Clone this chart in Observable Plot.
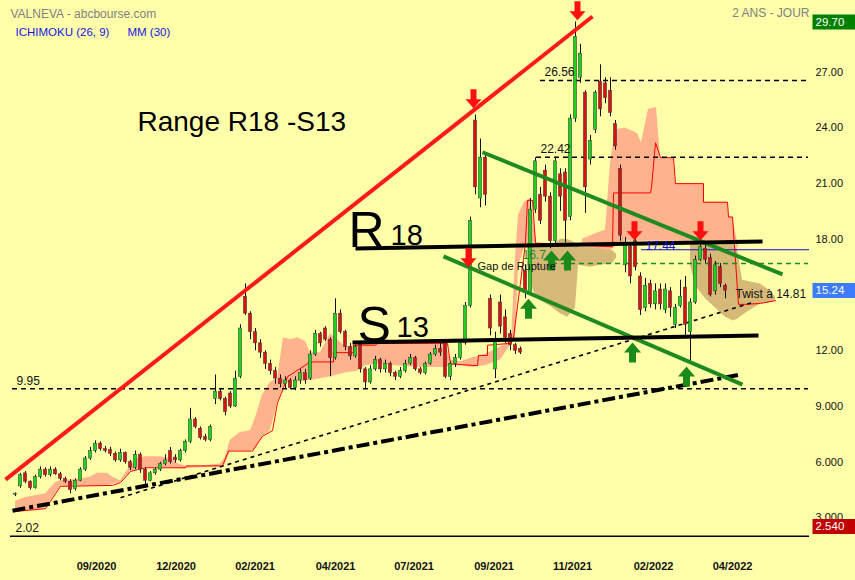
<!DOCTYPE html>
<html><head><meta charset="utf-8">
<script src="https://cdn.jsdelivr.net/npm/d3@7"></script>
<script src="https://cdn.jsdelivr.net/npm/@observablehq/plot@0.6"></script>
<style>html,body{margin:0;padding:0;background:#FFFFAA;} #chart svg{display:block}</style>
</head><body><div id="chart"></div>
<script>
// ---- candle data (one candle per slot) ----
const opens  = [4.25,4.7,5.4,4.95,4.6,5.2,5.6,5.3,5.6,5.35,5.1,4.95,4.55,5.0,5.6,6.2,6.6,7.0,6.7,6.65,6.45,6.1,6.5,6.0,5.7,6.4,5.6,5.0,5.4,5.6,5.9,6.6,6.25,6.1,6.6,7.1,8.3,7.8,7.35,7.2,9.4,9.8,9.4,9.7,9.0,10.6,14.9,14.0,13.0,12.4,11.9,11.3,10.9,10.5,10.2,10.4,10.0,10.4,10.8,10.5,11.8,12.9,13.2,12.6,11.6,14.0,13.0,12.2,11.7,12.3,11.0,10.3,11.0,11.5,11.0,11.3,10.8,10.6,10.9,11.3,11.6,11.0,10.8,11.3,11.8,12.1,12.4,10.6,11.3,11.6,12.4,14.4,24.4,20.2,22.4,14.8,11.0,14.6,13.8,12.9,12.3,12.1,16.3,15.1,19.6,20.4,21.7,20.3,17.9,21.5,21.6,19.2,24.5,26.7,25.9,22.3,23.9,26.5,26.4,26.0,24.2,21.8,16.6,17.6,17.9,16.0,14.3,15.6,14.5,15.3,14.2,15.2,13.4,14.4,15.4,13.0,14.6,16.9,17.5,17.0,15.2,16.5,15.5];
const highs  = [4.35,5.4,5.5,5.0,5.3,5.75,5.7,5.75,5.7,5.45,5.2,5.05,5.1,5.7,6.3,6.8,7.15,7.1,6.85,6.8,6.55,6.7,6.55,6.1,6.6,6.5,5.7,5.5,5.7,6.0,6.4,6.8,6.4,6.7,7.2,8.9,8.4,7.9,7.5,8.0,10.7,9.95,9.5,9.8,10.9,13.4,15.6,14.1,13.2,12.6,12.0,11.5,11.1,10.7,10.6,10.5,10.6,11.0,11.0,12.0,13.1,13.0,13.3,12.7,14.8,14.2,13.1,12.4,12.3,12.4,11.1,11.2,11.7,11.6,11.5,11.4,10.9,11.1,11.5,11.8,11.7,11.1,11.4,11.9,12.3,12.6,12.6,11.4,11.8,12.6,14.6,19.2,24.7,23.4,22.6,15.0,13.0,15.0,14.2,13.1,12.4,12.2,16.6,20.2,22.4,20.8,22.0,20.5,22.4,21.8,21.8,24.7,29.7,28.5,26.0,23.6,26.0,27.4,26.7,26.7,24.4,22.0,18.1,17.8,18.0,16.2,15.9,15.8,15.6,15.6,15.6,15.4,14.5,15.8,16.0,14.8,17.1,17.9,17.8,17.2,16.8,16.7,15.6];
const lows   = [4.15,4.6,4.85,4.5,4.55,5.1,5.2,5.2,5.3,5.0,4.85,4.3,4.45,4.95,5.5,6.1,6.5,6.6,6.5,6.3,6.0,6.0,5.9,5.55,5.6,5.4,4.8,4.95,5.3,5.5,5.8,5.9,5.95,6.0,6.5,7.0,7.8,7.2,7.1,7.1,9.1,9.3,8.5,8.9,8.95,10.5,13.9,12.6,12.0,11.6,11.0,10.7,10.2,10.0,9.95,9.9,9.85,10.2,10.2,10.4,11.7,12.2,12.5,10.6,11.5,12.9,12.0,11.5,11.6,10.8,9.95,10.2,10.9,10.8,10.8,10.6,10.4,10.5,10.8,11.2,10.9,10.7,10.7,11.2,11.7,11.7,10.5,10.4,11.1,11.5,12.3,14.3,20.4,19.7,19.8,12.8,10.5,12.9,12.4,12.0,11.8,11.8,14.8,15.0,19.4,18.8,20.0,17.5,17.6,19.5,17.8,19.0,24.3,26.4,19.4,22.0,23.7,24.6,25.3,24.6,22.8,17.9,16.2,15.6,16.3,13.9,14.1,14.3,14.2,14.2,14.0,13.8,13.2,14.3,12.8,11.4,14.5,16.8,16.7,14.9,15.0,15.4,14.8];
const closes = [4.3,5.3,4.95,4.6,5.2,5.6,5.3,5.6,5.35,5.1,4.95,4.5,5.0,5.6,6.2,6.6,7.0,6.7,6.6,6.45,6.1,6.5,6.0,5.7,6.4,5.6,5.0,5.4,5.6,5.9,6.1,6.0,6.1,6.6,7.1,8.3,7.9,7.3,7.2,7.9,9.8,9.4,8.7,9.0,10.5,13.2,14.0,13.0,12.4,11.9,11.3,10.9,10.5,10.2,10.4,10.0,10.4,10.8,10.4,11.8,12.9,12.4,12.6,11.6,14.0,13.0,12.2,11.7,12.2,11.0,10.3,11.0,11.5,11.0,11.3,10.8,10.6,10.9,11.3,11.6,11.0,10.8,11.3,11.8,12.1,11.9,10.6,11.3,11.6,12.4,14.4,19.0,20.8,22.4,20.4,13.2,12.6,13.3,12.7,12.3,12.0,11.9,15.1,19.6,22.2,19.0,20.3,17.9,22.2,20.3,19.0,24.5,28.9,28.0,20.8,23.3,25.9,25.0,25.6,24.8,23.0,18.2,17.8,16.0,16.5,14.2,15.5,14.5,15.2,14.5,15.3,14.3,14.3,14.9,13.4,14.6,16.9,17.6,16.9,15.0,16.6,15.6,15.24];

// ---- Ichimoku cloud (null = break) ----
const salmonX  = [0,2,4,6,7,8,9,13,15,16.4,18.4,19.4,21,22,23,24.4,26,29,31,32.6,34,37,41,42,43,45,47,48,49.4,51,52.4,53.6,55,56.4,58,59,61,63,64.4,66,68.4,70,73,76,81,86,87,89,91,94,97,99,
  null,99.2,100,100.6,101.8,103,104.2,
  null,113.4,116,118,119,120,122,124.4,125.2,126.6,128.2,129,131.6,132,137.6,137.8,142.4,142.6,143.4,144.6];
const salmonHi = [3.9,4.1,4.2,4.3,4.6,4.9,5.0,5.1,5.2,5.4,5.4,5.2,5.0,5.4,5.8,6.2,6.3,6.3,6.2,5.9,5.8,5.8,5.9,6.3,7.2,7.6,7.7,8.4,9.6,10.3,10.5,12.7,12.6,12.7,12.5,11.9,11.9,12.9,12.6,12.2,12.3,12.6,12.7,12.5,12.4,12.4,11.5,11.4,11.6,11.8,12.2,12.5,
  null,12.6,17.0,19.3,20.0,20.2,18.0,
  null,18.0,18.3,18.5,22.1,23.9,24.0,23.7,23.2,25.0,25.1,22.4,22.4,21.0,21.0,20.0,20.0,19.2,19.2,17.6];
const salmonLo = [3.3,3.35,3.4,3.55,3.9,4.3,4.7,4.7,4.7,4.7,4.75,4.8,4.9,5.2,5.5,5.6,5.7,5.7,5.7,5.65,5.65,5.7,5.75,5.9,6.6,6.6,6.6,6.7,7.4,7.7,9.2,10.0,10.4,10.3,10.4,10.4,10.5,10.6,10.7,10.8,10.9,11.2,11.3,11.2,11.1,11.1,11.2,11.2,11.1,11.2,11.5,12.3,
  null,12.4,12.6,16.5,17.6,17.8,17.8,
  null,17.6,17.2,17.2,17.4,17.6,17.9,17.9,17.9,17.9,17.9,17.9,17.9,17.9,17.9,17.9,17.9,17.9,17.9,17.5];
const khakiX  = [102.4,103.6,105,107,109,110.4,112,112.6,115,117,119.4,120.2, null,135,136,138,140,142,143.6,144.4,145.4,147,149,151,152];
const khakiHi = [17.8,17.8,17.6,17.6,18.0,18.0,17.8,17.6,17.5,17.5,17.4,17.2, null,17.8,17.8,17.8,17.8,17.8,17.8,17.5,15.8,15.7,15.6,15.2,14.9];
const khakiLo = [16.6,15.2,14.7,14.4,14.0,13.8,14.3,16.6,16.5,16.6,16.7,17.0, null,16.6,15.5,14.8,14.3,13.8,13.6,13.7,13.9,14.2,14.5,14.6,14.7];
const spanX = [0,6,7,8,9,19.4,21,22,23,24.4,26,34,34.2,41.4,42.6,47.4,49.4,51.4,52.4,53.6,54.4,58.4,58.6,63.6,63.6,67.6,67.6,72,72.4,86.4,87,89.4,92.4,92.6,94.4,94.4,99,99.6,102,102.4,103.4,104,119.4,119.6,127,127.2,128,129,131.6,132,137.6,137.6,142.4,142.6,143.4,144.6,146,149,152];
const spanV = [3.35,3.5,3.9,4.3,4.7,4.75,4.9,5.2,5.5,5.6,5.7,5.7,5.8,5.8,6.6,6.6,7.4,7.7,9.2,10.0,10.6,11.3,11.4,11.4,11.9,11.9,12.3,12.3,12.4,12.4,11.3,11.25,11.2,11.75,11.75,12.3,12.4,12.7,17.8,20.1,20.1,17.8,17.6,20.5,20.5,20.8,23.2,22.4,22.4,21.0,21.0,20.0,20.0,19.2,19.2,14.5,14.5,14.55,14.7];

// ---- drawn lines [x1, y1, x2, y2] in (slot, price) ----
const redTrend    = [-2, 5.06, 115.4, 30.0];
const greenUpper  = [93.4, 22.69, 153.4, 16.11];
const greenLower  = [85.6, 17.08, 145.4, 10.18];
const resistR18   = [68, 17.51, 149.4, 17.89];
const supportS13  = [67.4, 12.45, 148.6, 12.82];
const dashDotLine = [-0.6, 3.39, 145, 10.72];
const dashedLine  = [21, 4.09, 147.4, 14.6];

// ---- horizontal levels ----
const blackLevels = [26.56, 22.42, 9.95];
const blackLevelStart = [105, 104.2, -0.6];
const greenLevel = 16.7, greenLevelStart = 107.4;
const blueLevel = 17.44, blueLevelStart = 125.2;
const bottomLevel = 2.02, bottomLevelStart = -1;
const levelEnd = 158.6;

// ---- arrows (tip positions) ----
const downArrowX = [91.6, 112.4, 90.6, 123.8, 137.0];
const downArrowV = [25.06, 29.8, 16.5, 17.95, 17.95];
const upArrowX = [102.6, 107.2, 110.4, 123.4, 134.2];
const upArrowV = [14.8, 17.4, 17.4, 12.45, 11.15];

// ---- axes ----
const yTicks = [3, 6, 9, 12, 18, 21, 24, 27];
const xTickPos = [16.2, 32.1, 47.9, 64, 79.7, 95.7, 111.4, 127.6, 143.4];
const xTickLabels = ["09/2020","12/2020","02/2021","04/2021","07/2021","09/2021","11/2021","02/2022","04/2022"];
const boxValues = [29.70, 15.24, 2.54];
const boxLabels = ["29.70", "15.24", "2.540"];
const boxColors = ["#008000", "#3d7cff", "#c00000"];

// ---- texts ----
const title = "VALNEVA - abcbourse.com";
const indicators = ["ICHIMOKU (26, 9)", "MM (30)"];
const period = "2 ANS - JOUR";
const rangeTitle = {text: "Range R18 -S13", x: 24.4, v: 24.31};
const bigLetters = [{t: "R", x: 66.6, v: 18.43}, {t: "S", x: 68.4, v: 13.36}];
const bigDigits  = [{t: "18", x: 75, v: 18.19}, {t: "13", x: 76.2, v: 13.23}];
const gapText = {t: "Gap de Rupture", x: 92.4, v: 16.54};
const twistText = {t: "Twist à 14.81", x: 144, v: 15.04};
const greenLabel = {t: "16.7", x: 101.4, v: 16.7};
const blueLabel = {t: "17.44", x: 126, v: 17.44};

// ---------------------------------------------------------------
const FONT = "'Liberation Sans', Arial, Helvetica, sans-serif";
const UP = "#1fd01f", DOWN = "#d81212", SALMON = "#ffb38c", KHAKI = "#d6b877", GREEN = "#1f8a1f";

const candles = opens.map((o, i) => ({i, o, h: highs[i], l: lows[i], c: closes[i]}));
function pieces(xs, his, los) {
  let p = 0; const out = [];
  xs.forEach((x, k) => { if (x == null) { p++; return; } out.push({x, hi: his[k], lo: los[k], p}); });
  return out;
}
const salmonData = pieces(salmonX, salmonHi, salmonLo);
const khakiData = pieces(khakiX, khakiHi, khakiLo);
const spanData = spanX.map((x, k) => ({x, v: spanV[k]}));
const seg = a => [{x1: a[0], y1: a[1], x2: a[2], y2: a[3]}];

const arrowDown = {draw(ctx) {
  ctx.moveTo(0, 0); ctx.lineTo(-8, -9); ctx.lineTo(-3, -9); ctx.lineTo(-3, -19);
  ctx.lineTo(3, -19); ctx.lineTo(3, -9); ctx.lineTo(8, -9); ctx.closePath(); }};
const arrowUp = {draw(ctx) {
  ctx.moveTo(0, 0); ctx.lineTo(-8.5, 10); ctx.lineTo(-3.5, 10); ctx.lineTo(-3.5, 20);
  ctx.lineTo(3.5, 20); ctx.lineTo(3.5, 10); ctx.lineTo(8.5, 10); ctx.closePath(); }};
const boxSym = {draw(ctx) { ctx.rect(3, -7.5, 46, 15); }};

const downArrows = downArrowX.map((x, k) => ({x, v: downArrowV[k]}));
const upArrows = upArrowX.map((x, k) => ({x, v: upArrowV[k]}));
const boxes = boxValues.map((v, k) => ({v, t: boxLabels[k], c: boxColors[k]}));
const levels = blackLevels.map((v, k) => ({v, x1: blackLevelStart[k], x2: levelEnd, t: v.toFixed(2)}));

const chart = Plot.plot({
  width: 855, height: 580,
  marginTop: 16, marginBottom: 44, marginLeft: 13, marginRight: 46,
  x: {domain: [-0.4, 158.8], label: null},
  y: {domain: [2, 30], label: null},
  color: {type: "identity"},
  style: {background: "#FFFFAA", fontFamily: FONT, fontSize: "11px", color: "#111", overflow: "visible"},
  marks: [
    // cloud
    Plot.areaY(salmonData, {x: "x", y1: "lo", y2: "hi", z: "p", fill: SALMON, curve: "linear"}),
    Plot.areaY(khakiData, {x: "x", y1: "lo", y2: "hi", z: "p", fill: KHAKI, curve: "linear"}),
    Plot.line(spanData, {x: "x", y: "v", stroke: "#ff0000", strokeWidth: 1}),
    // levels
    Plot.ruleY([bottomLevel], {x1: bottomLevelStart, x2: 158.8, stroke: "#000", strokeWidth: 1.5}),
    Plot.ruleY(levels, {y: "v", x1: "x1", x2: "x2", stroke: "#000", strokeWidth: 1.5, strokeDasharray: "5,4"}),
    Plot.ruleY([greenLevel], {x1: greenLevelStart, x2: levelEnd, stroke: GREEN, strokeWidth: 1.5, strokeDasharray: "5,4"}),
    Plot.ruleY([blueLevel], {x1: blueLevelStart, x2: 158.8, stroke: "#1010d0", strokeWidth: 1}),
    // thin trend lines
    Plot.link(seg(dashedLine), {x1: "x1", y1: "y1", x2: "x2", y2: "y2", stroke: "#000", strokeWidth: 1.6, strokeDasharray: "4,4"}),
    Plot.link(seg(dashDotLine), {x1: "x1", y1: "y1", x2: "x2", y2: "y2", stroke: "#000", strokeWidth: 4, strokeDasharray: "13,4,4,4"}),
    // candles
    Plot.ruleX(candles, {x: "i", y1: "l", y2: "h", stroke: "#111", strokeWidth: 1}),
    Plot.rect(candles, {x1: d => d.i - 0.32, x2: d => d.i + 0.32, y1: "o", y2: "c",
      fill: d => d.c >= d.o ? UP : DOWN, stroke: "#333", strokeWidth: 0.5}),
    // heavy trend lines
    Plot.link(seg(redTrend), {x1: "x1", y1: "y1", x2: "x2", y2: "y2", stroke: "#ff1a1a", strokeWidth: 4}),
    Plot.link(seg(greenUpper), {x1: "x1", y1: "y1", x2: "x2", y2: "y2", stroke: GREEN, strokeWidth: 4}),
    Plot.link(seg(greenLower), {x1: "x1", y1: "y1", x2: "x2", y2: "y2", stroke: GREEN, strokeWidth: 4}),
    Plot.link(seg(resistR18), {x1: "x1", y1: "y1", x2: "x2", y2: "y2", stroke: "#000", strokeWidth: 4}),
    Plot.link(seg(supportS13), {x1: "x1", y1: "y1", x2: "x2", y2: "y2", stroke: "#000", strokeWidth: 4}),
    // arrows
    Plot.dot(downArrows, {x: "x", y: "v", symbol: arrowDown, fill: "#ff1010", stroke: "none"}),
    Plot.dot(upArrows, {x: "x", y: "v", symbol: arrowUp, fill: "#1a8a1a", stroke: "none"}),
    // level labels
    Plot.text(levels, {x: "x1", y: "v", text: "t", textAnchor: "start", dx: 4, dy: -8, fontSize: 12, fill: "#111"}),
    Plot.text([bottomLevel], {x: bottomLevelStart, y: d => d, text: d => d.toFixed(2), textAnchor: "start", dx: 5, dy: -8, fontSize: 12, fill: "#111"}),
    Plot.text([greenLabel], {x: "x", y: "v", text: "t", textAnchor: "start", dy: -8, fontSize: 12, fill: GREEN}),
    Plot.text([blueLabel], {x: "x", y: "v", text: "t", textAnchor: "start", dy: -4, fontSize: 12, fill: "#1010d0"}),
    Plot.text([gapText], {x: "x", y: "v", text: "t", textAnchor: "start", fontSize: 11, fill: "#111"}),
    Plot.text([twistText], {x: "x", y: "v", text: "t", textAnchor: "start", fontSize: 12, fill: "#111"}),
    // big annotations
    Plot.text([rangeTitle], {x: "x", y: "v", text: "text", textAnchor: "start", fontSize: 28, fill: "#000"}),
    Plot.text(bigLetters, {x: "x", y: "v", text: "t", textAnchor: "start", fontSize: 50, fill: "#000"}),
    Plot.text(bigDigits, {x: "x", y: "v", text: "t", textAnchor: "start", fontSize: 29, fill: "#000"}),
    // header
    Plot.text([title], {frameAnchor: "top-left", textAnchor: "start", dx: -3, dy: -7, fontSize: 12, fill: "#808080"}),
    Plot.text([indicators[0]], {frameAnchor: "top-left", textAnchor: "start", dx: 2, dy: 11, fontSize: 11.5, fill: "#1414e6"}),
    Plot.text([indicators[1]], {frameAnchor: "top-left", textAnchor: "start", dx: 114, dy: 11, fontSize: 11.5, fill: "#1414e6"}),
    Plot.text([period], {frameAnchor: "top-right", textAnchor: "end", dx: 0, dy: -8, fontSize: 12, fill: "#808080"}),
    // axes
    Plot.axisY(yTicks, {anchor: "right", tickSize: 0, tickPadding: 6, fontSize: 11, fill: "#111",
      tickFormat: d => d >= 10 ? d.toFixed(2) : d.toFixed(3)}),
    Plot.axisX(xTickPos, {anchor: "bottom", tickSize: 0, tickPadding: 26, fontSize: 11, fontWeight: "bold", fill: "#111",
      tickFormat: d => xTickLabels[xTickPos.indexOf(d)]}),
    // price boxes
    Plot.dot(boxes, {y: "v", frameAnchor: "right", symbol: boxSym, fill: "c", stroke: "none"}),
    Plot.text(boxes, {y: "v", frameAnchor: "right", text: "t", textAnchor: "start", dx: 6, fontSize: 11.5, fill: "#fff"})
  ]
});
document.getElementById("chart").appendChild(chart);
</script>
</body></html>
